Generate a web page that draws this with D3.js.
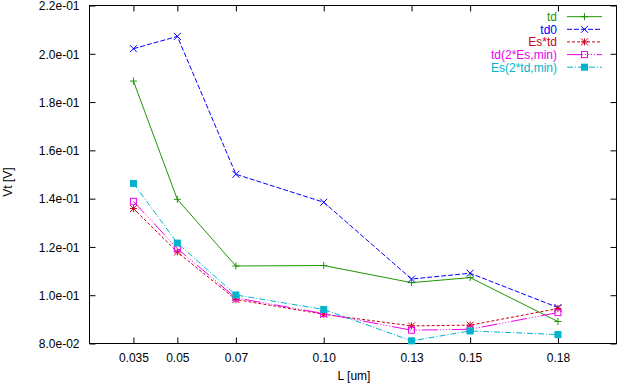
<!DOCTYPE html>
<html>
<head>
<meta charset="utf-8">
<script src="https://cdn.jsdelivr.net/npm/d3@7"></script>
<style>
  html, body { margin: 0; padding: 0; background: #fff; }
  svg { display: block; font-family: "Liberation Sans", Arial, Helvetica, sans-serif; }
</style>
</head>
<body>
<svg id="chart" width="618" height="383"></svg>
<script>
// ---- data ----
const lengths = [0.035, 0.05, 0.07, 0.10, 0.13, 0.15, 0.18];
const xTickLabels = ["0.035", "0.05", "0.07", "0.10", "0.13", "0.15", "0.18"];
const yTicks = [0.08, 0.10, 0.12, 0.14, 0.16, 0.18, 0.20, 0.22];
const yTickLabels = ["8.0e-02", "1.0e-01", "1.2e-01", "1.4e-01", "1.6e-01", "1.8e-01", "2.0e-01", "2.2e-01"];
const seriesNames = ["td", "td0", "Es*td", "td(2*Es,min)", "Es(2*td,min)"];
const td      = [0.1887, 0.1397, 0.1121, 0.1123, 0.1052, 0.1073, 0.0891];
const td0     = [0.2021, 0.2072, 0.1501, 0.1385, 0.1067, 0.1091, 0.0949];
const esTd    = [0.1359, 0.1179, 0.0982, 0.0921, 0.0873, 0.0876, 0.0945];
const tdEsMin = [0.1389, 0.1193, 0.0989, 0.0924, 0.0855, 0.0859, 0.0928];
const esTdMin = [0.1463, 0.1216, 0.1001, 0.0941, 0.0811, 0.0852, 0.0837];

const seriesValues = [td, td0, esTd, tdEsMin, esTdMin];
const colors = ["#1e9600", "#0000ff", "#cc0018", "#ee00ee", "#00b4cc"];
const dashes = [null, "5,2", "3,2", "16,2,1,2,1,2,1,2,1,2", "6,2,1,2"];
const markers = ["plus", "cross", "star", "square", "filled"];

// ---- layout ----
const svg = d3.select("#chart");
const FS = 12;
const pLeft = 89.5, pRight = 616.5, pTop = 5.5, pBottom = 343.5;
const x = d3.scaleLinear().domain([0.02, 0.2]).range([pLeft, pRight]);
const y = d3.scaleLinear().domain([0.08, 0.22]).range([pBottom, pTop]);

// frame
svg.append("rect").attr("x", pLeft).attr("y", pTop)
  .attr("width", pRight - pLeft).attr("height", pBottom - pTop)
  .attr("fill", "none").attr("stroke", "#000").attr("stroke-width", 1);

const tickLen = 6;
const xAxis = d3.axisBottom(x).tickValues(lengths)
  .tickFormat((d, i) => xTickLabels[i]).tickSizeInner(-tickLen).tickSizeOuter(0);
const gx = svg.append("g").attr("transform", `translate(0,${pBottom})`).call(xAxis);
gx.select(".domain").remove();
gx.selectAll("text").attr("font-size", FS).attr("fill", "#000")
  .attr("font-family", "Liberation Sans, Arial, sans-serif")
  .attr("y", 18).attr("dy", 0);
gx.selectAll("line").attr("stroke", "#000");

const xAxisTop = d3.axisTop(x).tickValues(lengths).tickFormat("")
  .tickSizeInner(-tickLen).tickSizeOuter(0);
const gxt = svg.append("g").attr("transform", `translate(0,${pTop})`).call(xAxisTop);
gxt.select(".domain").remove();
gxt.selectAll("line").attr("stroke", "#000");

const yAxis = d3.axisLeft(y).tickValues(yTicks)
  .tickFormat((d, i) => yTickLabels[i]).tickSizeInner(-tickLen).tickSizeOuter(0);
const gy = svg.append("g").attr("transform", `translate(${pLeft},0)`).call(yAxis);
gy.select(".domain").remove();
gy.selectAll("text").attr("font-size", FS).attr("fill", "#000")
  .attr("font-family", "Liberation Sans, Arial, sans-serif")
  .attr("x", -10).attr("dy", "0.36em");
gy.selectAll("line").attr("stroke", "#000");

const yAxisRight = d3.axisRight(y).tickValues(yTicks).tickFormat("")
  .tickSizeInner(-tickLen).tickSizeOuter(0);
const gyr = svg.append("g").attr("transform", `translate(${pRight},0)`).call(yAxisRight);
gyr.select(".domain").remove();
gyr.selectAll("line").attr("stroke", "#000");

// axis titles
svg.append("text").attr("x", 354).attr("y", 379.5).attr("text-anchor", "middle")
  .attr("font-size", FS).text("L [um]");
svg.append("text").attr("transform", "translate(12,182) rotate(-90)")
  .attr("text-anchor", "middle").attr("font-size", FS).text("Vt [V]");

// marker drawing
function drawMarker(g, type, cx, cy, color) {
  const s = 3.5;
  if (type === "plus") {
    g.append("path").attr("d", `M${cx - s},${cy}H${cx + s}M${cx},${cy - s}V${cy + s}`)
      .attr("stroke", color).attr("stroke-width", 1).attr("fill", "none");
  } else if (type === "cross") {
    g.append("path").attr("d", `M${cx - s},${cy - s}L${cx + s},${cy + s}M${cx - s},${cy + s}L${cx + s},${cy - s}`)
      .attr("stroke", color).attr("stroke-width", 1).attr("fill", "none");
  } else if (type === "star") {
    g.append("path").attr("d",
      `M${cx - s},${cy}H${cx + s}M${cx},${cy - s}V${cy + s}M${cx - s},${cy - s}L${cx + s},${cy + s}M${cx - s},${cy + s}L${cx + s},${cy - s}`)
      .attr("stroke", color).attr("stroke-width", 1).attr("fill", "none");
  } else if (type === "square") {
    g.append("rect").attr("x", cx - 3).attr("y", cy - 3).attr("width", 6).attr("height", 6)
      .attr("stroke", color).attr("stroke-width", 1).attr("fill", "none");
  } else if (type === "filled") {
    g.append("rect").attr("x", cx - 3.5).attr("y", cy - 3.5).attr("width", 7).attr("height", 7)
      .attr("fill", color);
  }
}

const line = d3.line().x(d => x(d[0])).y(d => y(d[1]));

seriesValues.forEach((vals, i) => {
  const g = svg.append("g");
  const pts = lengths.map((l, j) => [l, vals[j]]);
  g.append("path").attr("d", line(pts)).attr("fill", "none")
    .attr("stroke", colors[i]).attr("stroke-width", 1)
    .attr("stroke-dasharray", dashes[i]);
  pts.forEach(p => drawMarker(g, markers[i], x(p[0]), y(p[1]), colors[i]));
});

// legend
const legendRows = [16.7, 29.3, 41.9, 54.6, 67.2];
seriesNames.forEach((name, i) => {
  const ly = legendRows[i];
  svg.append("text").attr("x", 557).attr("y", ly).attr("dy", "0.36em")
    .attr("text-anchor", "end").attr("font-size", FS).attr("fill", colors[i]).text(name);
  svg.append("line").attr("x1", 567).attr("x2", 602).attr("y1", ly).attr("y2", ly)
    .attr("stroke", colors[i]).attr("stroke-width", 1).attr("stroke-dasharray", dashes[i]);
  drawMarker(svg, markers[i], 584.5, ly, colors[i]);
});
</script>
</body>
</html>
